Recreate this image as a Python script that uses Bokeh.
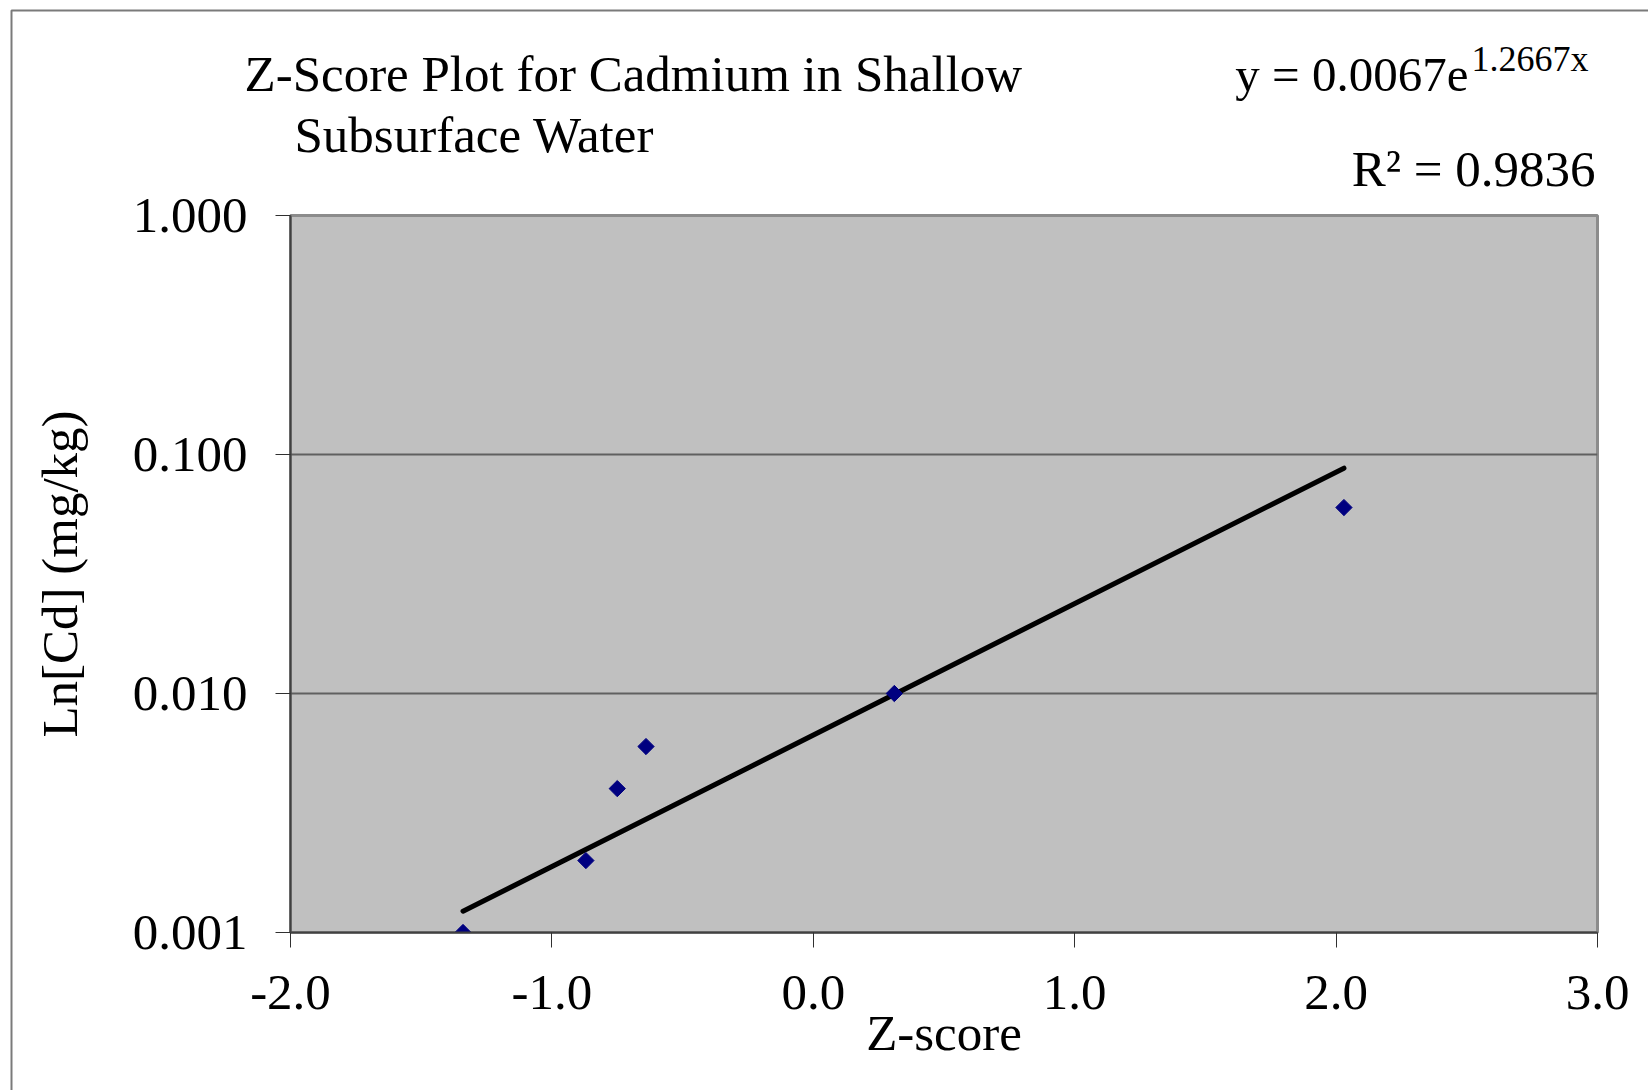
import math
from bokeh.plotting import figure
from bokeh.models import FixedTicker, PrintfTickFormatter, ColumnDataSource, Range1d, GridBox
from bokeh.core.properties import value
from bokeh.embed import file_html
from bokeh.resources import INLINE

# ---------------- data ----------------
z_scores = [-1.34, -0.87, -0.75, -0.64, 0.31, 2.03]
cd_values = [0.001, 0.002, 0.004, 0.006, 0.010, 0.060]
fit_a = 0.0067
fit_b = 1.2667
x_ticks = [-2.0, -1.0, 0.0, 1.0, 2.0, 3.0]
y_ticks = [0.001, 0.01, 0.1, 1.0]
y_grid_ticks = [0.01, 0.1]
title_lines = ["Z-Score Plot for Cadmium in Shallow", "Subsurface Water"]
eq_main = "y = 0.0067e"
eq_sup = "1.2667x"
r2_text = "R\u00b2 = 0.9836"
x_label = "Z-score"
y_label = "Ln[Cd] (mg/kg)"

# ---------------- layout (page pixels) ----------------
FONT = "Liberation Serif"
BORDER = "#7a7a7a"
W, H = 1648, 1090
FL, FR, FT, FB = 290, 1597, 215, 932   # plot area

# ---- main plot ----
p = figure(width=W, height=H, x_range=(-2.0, 3.0), y_range=(0.001, 1.0), y_axis_type="log",
           output_backend="svg", toolbar_location=None,
           min_border_left=FL, min_border_right=W - FR, min_border_top=FT,
           min_border_bottom=H - FB)
p.frame_align = False
p.title = None
p.background_fill_color = "#C0C0C0"
p.border_fill_color = "white"
p.outline_line_color = "#8c8c8c"
p.outline_line_width = 3

p.xgrid.visible = False
p.ygrid.ticker = FixedTicker(ticks=y_grid_ticks)
p.ygrid.grid_line_color = "#606060"
p.ygrid.grid_line_width = 2

for ax in (p.xaxis[0], p.yaxis[0]):
    ax.axis_line_color = "#404040"
    ax.axis_line_width = 2
    ax.major_tick_line_color = "#303030"
    ax.major_tick_line_width = 1
    ax.major_tick_in = 0
    ax.major_tick_out = 15
    ax.minor_tick_line_color = None
    ax.major_label_text_font = FONT
    ax.major_label_text_font_size = "51px"
    ax.major_label_text_color = "black"
    ax.axis_label_text_font = FONT
    ax.axis_label_text_font_size = "51px"
    ax.axis_label_text_font_style = "normal"
    ax.axis_label_text_color = "black"

p.xaxis[0].ticker = FixedTicker(ticks=x_ticks)
p.xaxis[0].formatter = PrintfTickFormatter(format="%.1f")
p.xaxis[0].major_label_standoff = 28
p.xaxis[0].axis_label = x_label
p.xaxis[0].axis_label_standoff = -7

p.yaxis[0].ticker = FixedTicker(ticks=y_ticks)
p.yaxis[0].formatter = PrintfTickFormatter(format="%.3f")
p.yaxis[0].major_label_standoff = 28
p.yaxis[0].axis_label = y_label
p.yaxis[0].axis_label_standoff = 42

# trend line (from the fitted equation shown on the chart)
fit_x = [min(z_scores), max(z_scores)]
fit_y = [fit_a * math.exp(fit_b * v) for v in fit_x]
p.line(fit_x, fit_y, line_color="black", line_width=5, line_cap="round")

# points
src = ColumnDataSource(dict(x=z_scores, y=cd_values))
p.scatter("x", "y", source=src, marker="square", angle=math.pi / 4, size=11.5,
          fill_color="#000080", line_color="#000080")

# ---- transparent overlay for titles, equation and chart-area border ----
ov = figure(width=W, height=H, x_range=Range1d(0, W), y_range=Range1d(H, 0),
            output_backend="svg", toolbar_location=None,
            x_axis_location=None, y_axis_location=None,
            min_border=0, min_border_left=0, min_border_right=0,
            min_border_top=0, min_border_bottom=0)
ov.frame_align = False
ov.title = None
ov.grid.visible = False
ov.outline_line_color = None
ov.background_fill_color = None
ov.border_fill_color = None
ov.line([11, 11, W], [H, 10, 10], line_color=BORDER, line_width=2)

def otext(txt, x, baseline_y, size_px, align="left"):
    ov.text(x=[x], y=[baseline_y - 0.38 * size_px], text=[txt], text_font=value(FONT),
            text_font_size=f"{size_px}px", text_align=align,
            text_baseline="alphabetic", text_color="black")

otext(title_lines[0], 244, 92.5, 51)
otext(title_lines[1], 294, 154, 51)
otext(eq_main, 1468, 92.5, 49, align="right")
otext(eq_sup, 1471, 72, 36)
otext(r2_text, 1595, 187.5, 51, align="right")

layout = GridBox(children=[(p, 0, 0), (ov, 0, 0)])
open("out.html", "w").write(file_html(layout, INLINE))
